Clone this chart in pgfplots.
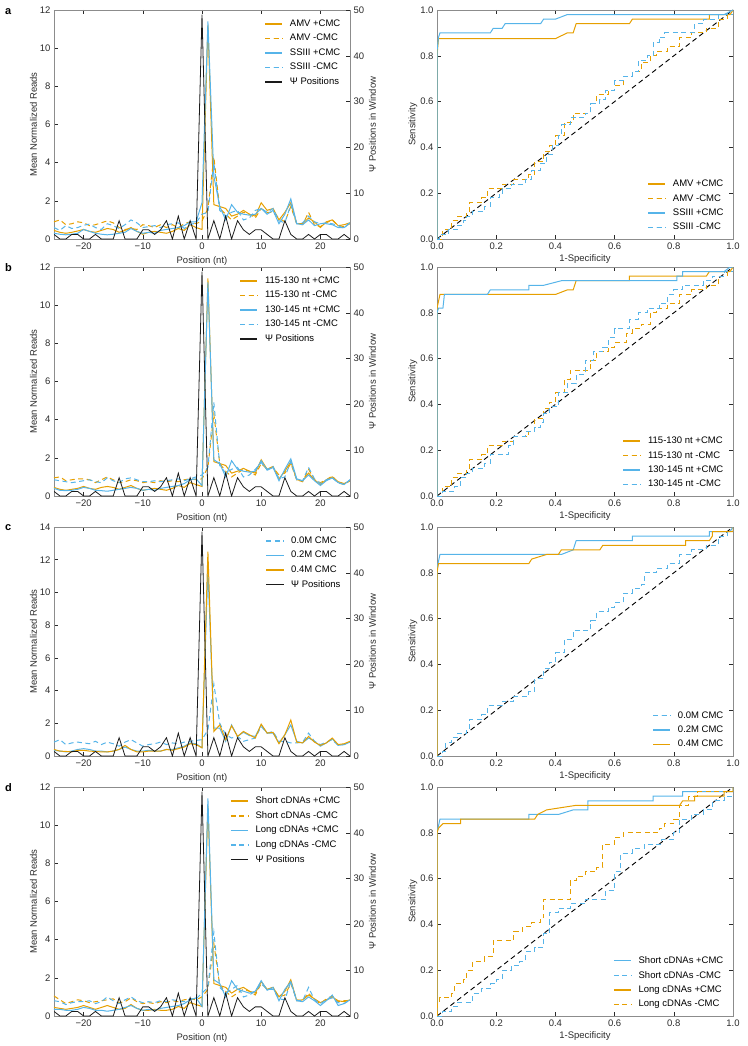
\documentclass[border=0pt]{standalone}
\usepackage{fontspec}
\setmainfont{Liberation Sans}
\usepackage{pgfplots}
\pgfplotsset{compat=1.18}
\usepackage{pgfplotstable}
\definecolor{cor}{HTML}{E69F00}
\definecolor{cbl}{HTML}{56B4E9}
\definecolor{axgray}{HTML}{8C8C8C}
\definecolor{txt}{HTML}{2B2B2B}
\definecolor{psic}{HTML}{1A1A1A}

\pgfplotstableread{
x a1 a2 a3 a4 psi
-25 0.45 0.90 0.30 0.60 1
-24 0.35 1.00 0.25 0.45 0
-23 0.30 0.75 0.22 0.70 0
-22 0.35 0.80 0.25 0.55 1
-21 0.42 0.90 0.30 0.60 1
-20 0.50 0.85 0.50 0.72 0
-19 0.40 0.70 0.40 0.78 0
-18 0.35 0.75 0.30 0.60 1
-17 0.45 0.85 0.25 0.50 0
-16 0.55 0.95 0.22 0.80 0
-15 0.50 0.85 0.25 0.70 0
-14 0.35 0.60 0.30 0.55 4
-13 0.45 0.50 0.35 0.75 0
-12 0.60 0.55 0.55 1.00 0
-11 0.40 0.50 0.40 0.85 0
-10 0.25 0.75 0.30 0.60 2
-9 0.35 0.70 0.35 0.65 2
-8 0.40 0.60 0.30 0.70 1
-7 0.35 0.75 0.45 0.60 2
-6 0.30 0.60 0.50 0.75 4
-5 0.40 0.75 0.55 0.80 0
-4 0.55 0.60 0.60 0.85 5
-3 0.45 0.80 0.70 0.55 0
-2 0.75 0.90 0.90 0.75 4
-1 0.60 0.80 0.90 0.85 0
0 0.50 0.95 1.90 1.30 49
1 11.20 1.60 11.40 1.40 0
2 1.80 4.30 3.30 4.00 4
3 1.70 1.60 1.70 1.50 0
4 1.60 1.30 1.00 1.20 5
5 1.20 1.00 1.80 1.40 0
6 1.30 1.20 1.40 1.50 4
7 1.50 1.40 1.30 1.00 2
8 1.30 1.30 1.25 1.10 1
9 1.20 1.10 1.30 1.50 2
10 1.90 1.60 1.60 1.60 2
11 1.50 1.40 1.30 1.40 1
12 1.60 1.40 1.50 1.60 0
13 1.00 1.10 0.80 0.95 0
14 1.40 0.90 1.30 0.85 4
15 1.90 1.70 2.10 1.80 1
16 0.80 0.80 0.80 0.80 0
17 0.80 0.75 0.75 0.85 0
18 1.10 1.40 1.00 1.20 1
19 0.90 0.75 0.70 0.90 0
20 0.60 0.65 0.80 0.80 1
21 0.90 0.85 0.80 0.85 1
22 1.00 1.00 0.75 0.80 0
23 0.70 0.70 0.60 0.70 0
24 0.75 0.65 0.60 0.55 1
25 0.85 0.80 0.85 0.90 0
}\tabA

\pgfplotstableread{
x b1 b2 b3 b4 psi
-25 0.45 0.95 0.40 0.85 1
-24 0.35 1.00 0.30 0.80 0
-23 0.30 0.80 0.28 0.75 0
-22 0.35 0.85 0.30 0.70 1
-21 0.40 0.90 0.35 0.75 1
-20 0.50 0.90 0.45 0.80 0
-19 0.40 0.85 0.40 0.85 0
-18 0.35 0.70 0.30 0.75 1
-17 0.45 0.85 0.28 0.70 0
-16 0.50 1.00 0.25 0.95 0
-15 0.45 0.85 0.30 0.80 0
-14 0.35 0.70 0.35 0.70 4
-13 0.45 0.75 0.40 0.90 0
-12 0.55 0.85 0.45 0.95 0
-11 0.40 0.80 0.40 0.85 0
-10 0.30 0.70 0.30 0.75 2
-9 0.35 0.75 0.35 0.75 2
-8 0.40 0.70 0.30 0.80 1
-7 0.35 0.80 0.40 0.75 2
-6 0.30 0.75 0.45 0.80 4
-5 0.40 0.80 0.50 0.85 0
-4 0.55 0.75 0.55 0.90 5
-3 0.45 0.85 0.65 0.80 0
-2 0.70 0.90 0.85 0.90 4
-1 0.60 0.85 0.90 1.00 0
0 0.50 0.90 0.55 1.10 49
1 11.40 1.50 11.20 1.50 0
2 1.80 4.30 1.90 4.90 4
3 1.70 1.70 1.70 1.60 0
4 1.60 1.30 1.00 1.20 5
5 1.20 1.00 1.85 1.40 0
6 1.30 1.20 1.40 1.50 4
7 1.45 1.40 1.30 1.00 2
8 1.30 1.30 1.25 1.10 1
9 1.20 1.10 1.30 1.40 2
10 1.90 1.70 1.85 1.75 2
11 1.40 1.40 1.35 1.40 1
12 1.55 1.50 1.50 1.55 0
13 0.90 1.10 0.80 0.90 0
14 1.30 1.20 1.40 1.00 4
15 1.80 1.70 1.95 1.80 1
16 0.85 0.85 0.90 0.85 0
17 0.80 0.75 0.80 0.80 0
18 1.20 1.40 1.10 1.50 1
19 0.85 0.85 0.80 0.90 0
20 0.60 0.70 0.55 0.65 1
21 0.85 0.85 0.80 0.85 1
22 1.00 1.05 0.95 0.95 0
23 0.75 0.70 0.70 0.70 0
24 0.65 0.60 0.60 0.60 1
25 0.80 0.80 0.85 0.85 0
}\tabB

\pgfplotstableread{
x c1 c2 c3 psi
-25 0.85 0.35 0.40 1
-24 1.00 0.30 0.30 0
-23 0.70 0.25 0.28 0
-22 0.80 0.30 0.25 1
-21 0.85 0.40 0.35 1
-20 0.80 0.45 0.35 0
-19 0.75 0.40 0.30 0
-18 0.90 0.30 0.28 1
-17 0.70 0.30 0.25 0
-16 0.85 0.25 0.25 0
-15 0.75 0.30 0.30 0
-14 0.60 0.40 0.40 4
-13 0.85 0.55 0.65 0
-12 1.00 0.40 0.40 0
-11 0.80 0.30 0.25 0
-10 0.60 0.30 0.25 2
-9 0.70 0.35 0.30 2
-8 0.75 0.30 0.30 1
-7 0.85 0.30 0.30 2
-6 0.70 0.40 0.40 4
-5 0.80 0.40 0.35 0
-4 0.75 0.50 0.45 5
-3 0.85 0.60 0.55 0
-2 0.90 0.80 0.75 4
-1 0.95 0.75 0.70 0
0 1.00 0.50 0.50 49
1 1.60 11.40 12.50 0
2 4.40 1.70 1.50 4
3 2.00 1.70 1.90 0
4 1.30 0.90 1.00 5
5 1.10 1.90 1.85 0
6 1.20 1.20 1.20 4
7 0.90 1.45 1.50 2
8 1.00 1.25 1.30 1
9 1.10 1.20 1.10 2
10 1.80 1.90 1.95 2
11 1.40 1.40 1.40 1
12 1.50 1.40 1.45 0
13 0.90 0.80 0.75 0
14 0.90 1.30 1.30 4
15 0.80 1.90 2.20 1
16 0.80 0.90 0.85 0
17 0.85 0.80 0.80 0
18 1.40 1.10 1.20 1
19 0.90 0.90 0.85 0
20 0.70 0.60 0.65 1
21 0.85 0.80 0.80 1
22 1.00 1.05 1.10 0
23 0.65 0.65 0.70 0
24 0.70 0.70 0.75 1
25 0.85 0.85 0.90 0
}\tabC

\pgfplotstableread{
x d1 d2 d3 d4 psi
-25 0.45 1.05 0.35 0.80 1
-24 0.40 0.85 0.35 0.75 0
-23 0.35 0.65 0.30 0.60 0
-22 0.40 0.75 0.30 0.70 1
-21 0.45 0.85 0.35 0.75 1
-20 0.55 0.80 0.45 0.75 0
-19 0.45 0.70 0.40 0.80 0
-18 0.35 0.75 0.30 0.65 1
-17 0.45 0.80 0.30 0.75 0
-16 0.55 0.85 0.25 1.00 0
-15 0.45 0.90 0.30 0.80 0
-14 0.35 0.70 0.35 0.65 4
-13 0.40 0.75 0.45 0.85 0
-12 0.60 0.95 0.55 1.00 0
-11 0.40 0.75 0.40 0.80 0
-10 0.30 0.65 0.30 0.70 2
-9 0.30 0.70 0.35 0.75 2
-8 0.35 0.65 0.30 0.70 1
-7 0.30 0.75 0.40 0.80 2
-6 0.30 0.70 0.45 0.75 4
-5 0.35 0.80 0.50 0.85 0
-4 0.50 0.75 0.55 0.80 5
-3 0.40 0.85 0.65 0.75 0
-2 0.70 0.90 0.85 0.90 4
-1 0.60 0.85 0.95 0.90 0
0 0.50 1.00 0.50 1.20 49
1 11.00 1.40 11.40 1.50 0
2 1.70 3.80 1.90 4.40 4
3 1.60 1.60 1.70 1.50 0
4 1.50 1.30 1.00 1.20 5
5 1.20 1.00 1.85 1.40 0
6 1.40 1.20 1.40 1.60 4
7 1.50 1.40 1.30 1.00 2
8 1.30 1.30 1.20 1.10 1
9 1.20 1.10 1.30 1.30 2
10 1.80 1.70 1.85 1.70 2
11 1.40 1.40 1.35 1.40 1
12 1.50 1.50 1.50 1.40 0
13 1.00 1.00 0.80 0.90 0
14 1.30 1.10 1.40 0.85 4
15 1.90 1.70 1.80 1.80 1
16 0.80 0.85 0.80 0.80 0
17 0.85 0.80 0.75 0.80 0
18 1.10 1.20 1.00 1.50 1
19 0.90 0.85 0.80 0.85 0
20 0.70 0.65 0.55 0.65 1
21 0.85 0.90 0.80 0.85 1
22 1.00 1.05 1.10 0.95 0
23 0.80 0.75 0.55 0.70 0
24 0.75 0.80 0.65 0.65 1
25 0.85 0.80 0.85 0.85 0
}\tabD

\newcommand{\fs}{\fontsize{9.5}{11}\selectfont}
\pgfplotsset{
  base/.style={
    scale only axis, width=296pt, height=229pt,
    axis line style={axgray, line width=0.8pt},
    tick style={txt, line width=0.6pt},
    major tick length=4pt,
    tick align=inside,
    ticklabel style={font=\fs, text=txt},
    label style={font=\fs, text=txt},
    /pgf/number format/assume math mode=true,
    legend style={draw=none, fill=none, font=\fs, row sep=2.3pt,
      /tikz/every odd column/.append style={column sep=5pt}},
    legend image post style={line width=1.4pt},
    legend cell align=left,
    anchor=south west,
  },
  leftmain/.style={base, xmin=-25, xmax=25, ymin=0,
    xtick={-20,-10,0,10,20}, xticklabels={−20,−10,0,10,20},
    xlabel={Position (nt)}, ylabel={Mean Normalized Reads},
    ylabel style={yshift=-4pt},
    ytick pos=left, xtick pos=both,
    legend style={at={(0.985,0.975)}, anchor=north east}},
  leftpsi/.style={base, xmin=-25, xmax=25, ymin=0, ymax=50,
    ytick={0,10,20,30,40,50}, axis x line=none, axis y line*=right,
    ylabel={Ψ Positions in Window}, ylabel style={yshift=2pt}},
  roc/.style={base, xmin=0, xmax=1, ymin=0, ymax=1,
    xtick={0,0.2,0.4,0.6,0.8,1}, ytick={0,0.2,0.4,0.6,0.8,1},
    xticklabel style={/pgf/number format/.cd, fixed, fixed zerofill, precision=1},
    yticklabel style={/pgf/number format/.cd, fixed, fixed zerofill, precision=1},
    xtick pos=both, ytick pos=both,
    xlabel={1-Specificity}, ylabel={Sensitivity},
    ylabel style={yshift=-4pt}, xlabel style={yshift=2pt},
    legend style={at={(0.985,0.015)}, anchor=south east}},
  sor/.style={draw=cor, line width=1pt},
  dor/.style={draw=cor, line width=1pt, dash pattern=on 5pt off 3.5pt},
  sbl/.style={draw=cbl, line width=1pt},
  dbl/.style={draw=cbl, line width=1pt, dash pattern=on 5pt off 3.5pt},
  psl/.style={draw=psic, line width=0.8pt},
  diag/.style={draw=black, line width=0.9pt, dash pattern=on 5pt off 3.5pt, forget plot},
}

\begin{document}
\begin{tikzpicture}
\useasboundingbox (0,0) rectangle (747pt,-1046pt);
\tikzset{lett/.style={font=\bfseries\fontsize{11}{13}\selectfont, anchor=north west, inner sep=0pt}}
\node[lett] at (5pt,-8pt) {a};
\node[lett] at (5pt,-263pt) {b};
\node[lett] at (5pt,-524pt) {c};
\node[lett] at (5pt,-783pt) {d};

% ===== row a =====
\begin{axis}[leftmain, at={(54pt,-239pt)}, ymax=12, ytick={0,2,4,6,8,10,12}]
\addplot[sor] table[x=x,y=a1]{\tabA}; \addlegendentry{AMV +CMC}
\addplot[dor] table[x=x,y=a2]{\tabA}; \addlegendentry{AMV -CMC}
\addplot[sbl] table[x=x,y=a3]{\tabA}; \addlegendentry{SSIII +CMC}
\addplot[dbl] table[x=x,y=a4]{\tabA}; \addlegendentry{SSIII -CMC}
\addlegendimage{psl} \addlegendentry{Ψ Positions}
\end{axis}
\begin{axis}[leftpsi, at={(54pt,-239pt)}]
\addplot[psl] table[x=x,y=psi]{\tabA};
\end{axis}
\begin{axis}[roc, at={(437pt,-239pt)}]
\addplot[diag] coordinates {(0,0)(1,1)};
\addplot[sor] coordinates {(0,0)(0,0.80)(0.005,0.875)(0.40,0.875)(0.44,0.90)(0.46,0.90)(0.47,0.94)(0.65,0.94)(0.66,0.96)(0.92,0.96)(0.92,0.98)(0.99,0.98)(1,1)};
\addlegendentry{AMV +CMC}
\addplot[dor, const plot] coordinates {(0,0)(0.02,0.04)(0.05,0.08)(0.07,0.10)(0.10,0.12)(0.11,0.16)(0.15,0.18)(0.17,0.22)(0.22,0.24)(0.26,0.26)(0.31,0.28)(0.33,0.34)(0.36,0.38)(0.38,0.41)(0.40,0.45)(0.43,0.51)(0.46,0.55)(0.50,0.55)(0.52,0.59)(0.54,0.63)(0.58,0.65)(0.60,0.67)(0.63,0.71)(0.66,0.73)(0.69,0.77)(0.72,0.80)(0.74,0.82)(0.78,0.84)(0.82,0.88)(0.86,0.90)(0.91,0.92)(0.95,0.96)(0.98,0.98)(1,1)};
\addlegendentry{AMV -CMC}
\addplot[sbl] coordinates {(0,0)(0,0.82)(0.005,0.88)(0.01,0.90)(0.18,0.90)(0.19,0.92)(0.22,0.92)(0.23,0.94)(0.35,0.94)(0.36,0.96)(0.40,0.96)(0.44,0.98)(0.97,0.98)(1,1)};
\addlegendentry{SSIII +CMC}
\addplot[dbl, const plot] coordinates {(0,0)(0.01,0.02)(0.04,0.04)(0.07,0.06)(0.09,0.08)(0.10,0.10)(0.12,0.12)(0.16,0.14)(0.18,0.18)(0.21,0.20)(0.22,0.22)(0.25,0.24)(0.30,0.26)(0.32,0.30)(0.35,0.33)(0.37,0.37)(0.39,0.41)(0.41,0.45)(0.42,0.50)(0.45,0.53)(0.50,0.55)(0.52,0.59)(0.55,0.61)(0.57,0.65)(0.60,0.69)(0.63,0.71)(0.66,0.73)(0.68,0.78)(0.71,0.80)(0.73,0.86)(0.75,0.88)(0.77,0.90)(0.83,0.90)(0.87,0.94)(0.90,0.96)(0.95,0.98)(1,1)};
\addlegendentry{SSIII -CMC}
\end{axis}

% ===== row b =====
\begin{axis}[leftmain, at={(54pt,-496pt)}, ymax=12, ytick={0,2,4,6,8,10,12}]
\addplot[sor] table[x=x,y=b1]{\tabB}; \addlegendentry{115-130 nt +CMC}
\addplot[dor] table[x=x,y=b2]{\tabB}; \addlegendentry{115-130 nt -CMC}
\addplot[sbl] table[x=x,y=b3]{\tabB}; \addlegendentry{130-145 nt +CMC}
\addplot[dbl] table[x=x,y=b4]{\tabB}; \addlegendentry{130-145 nt -CMC}
\addlegendimage{psl} \addlegendentry{Ψ Positions}
\end{axis}
\begin{axis}[leftpsi, at={(54pt,-496pt)}]
\addplot[psl] table[x=x,y=psi]{\tabB};
\end{axis}
\begin{axis}[roc, at={(437pt,-496pt)}]
\addplot[diag] coordinates {(0,0)(1,1)};
\addplot[sor] coordinates {(0,0)(0,0.82)(0.01,0.88)(0.40,0.88)(0.44,0.90)(0.46,0.90)(0.47,0.94)(0.65,0.94)(0.65,0.96)(0.91,0.96)(0.92,0.98)(0.99,0.98)(1,1)};
\addlegendentry{115-130 nt +CMC}
\addplot[dor, const plot] coordinates {(0,0)(0.02,0.04)(0.05,0.08)(0.07,0.10)(0.10,0.12)(0.11,0.16)(0.15,0.18)(0.17,0.22)(0.22,0.24)(0.26,0.26)(0.31,0.28)(0.33,0.34)(0.36,0.38)(0.38,0.41)(0.40,0.45)(0.43,0.51)(0.45,0.55)(0.50,0.55)(0.52,0.59)(0.54,0.63)(0.58,0.65)(0.60,0.67)(0.64,0.71)(0.66,0.73)(0.69,0.75)(0.72,0.80)(0.74,0.82)(0.78,0.84)(0.82,0.88)(0.86,0.90)(0.91,0.92)(0.95,0.96)(0.98,0.98)(1,1)};
\addlegendentry{115-130 nt -CMC}
\addplot[sbl] coordinates {(0,0)(0,0.80)(0.005,0.82)(0.02,0.82)(0.025,0.88)(0.17,0.88)(0.18,0.90)(0.31,0.90)(0.31,0.92)(0.36,0.92)(0.42,0.94)(0.81,0.94)(0.81,0.96)(0.83,0.96)(0.83,0.98)(0.97,0.98)(0.99,1)(1,1)};
\addlegendentry{130-145 nt +CMC}
\addplot[dbl, const plot] coordinates {(0,0)(0.02,0.02)(0.06,0.04)(0.08,0.08)(0.10,0.10)(0.12,0.12)(0.16,0.14)(0.18,0.18)(0.21,0.18)(0.24,0.22)(0.26,0.26)(0.30,0.28)(0.33,0.30)(0.35,0.32)(0.36,0.36)(0.38,0.39)(0.41,0.45)(0.44,0.49)(0.47,0.53)(0.50,0.59)(0.53,0.63)(0.56,0.65)(0.58,0.69)(0.60,0.73)(0.65,0.77)(0.68,0.80)(0.71,0.82)(0.75,0.84)(0.78,0.88)(0.80,0.90)(0.83,0.92)(0.90,0.94)(0.93,0.96)(0.97,0.98)(1,1)};
\addlegendentry{130-145 nt -CMC}
\end{axis}

% ===== row c =====
\begin{axis}[leftmain, at={(54pt,-756pt)}, ymax=14, ytick={0,2,4,6,8,10,12,14}]
\addplot[dbl] table[x=x,y=c1]{\tabC}; \addlegendentry{0.0M CMC}
\addplot[sbl] table[x=x,y=c2]{\tabC}; \addlegendentry{0.2M CMC}
\addplot[sor] table[x=x,y=c3]{\tabC}; \addlegendentry{0.4M CMC}
\addlegendimage{psl} \addlegendentry{Ψ Positions}
\end{axis}
\begin{axis}[leftpsi, at={(54pt,-756pt)}]
\addplot[psl] table[x=x,y=psi]{\tabC};
\end{axis}
\begin{axis}[roc, at={(437pt,-756pt)}]
\addplot[diag] coordinates {(0,0)(1,1)};
\addplot[dbl, const plot] coordinates {(0,0)(0.02,0.02)(0.03,0.06)(0.05,0.08)(0.07,0.10)(0.10,0.12)(0.11,0.16)(0.15,0.18)(0.17,0.22)(0.22,0.24)(0.26,0.26)(0.31,0.28)(0.33,0.34)(0.36,0.38)(0.38,0.41)(0.40,0.45)(0.43,0.51)(0.46,0.55)(0.50,0.55)(0.52,0.59)(0.54,0.63)(0.58,0.65)(0.60,0.67)(0.63,0.71)(0.66,0.73)(0.69,0.75)(0.70,0.80)(0.74,0.82)(0.78,0.84)(0.82,0.88)(0.86,0.90)(0.91,0.92)(0.95,0.96)(0.98,0.98)(1,1)};
\addlegendentry{0.0M CMC}
\addplot[sbl] coordinates {(0,0)(0,0.82)(0.01,0.88)(0.42,0.88)(0.46,0.90)(0.47,0.94)(0.66,0.94)(0.66,0.96)(0.92,0.96)(0.92,0.98)(0.99,0.98)(1,1)};
\addlegendentry{0.2M CMC}
\addplot[sor] coordinates {(0,0)(0,0.80)(0.005,0.84)(0.31,0.84)(0.32,0.86)(0.37,0.88)(0.41,0.88)(0.42,0.90)(0.55,0.90)(0.56,0.92)(0.84,0.92)(0.84,0.94)(0.92,0.94)(0.93,0.96)(0.93,0.98)(1,0.98)(1,1)};
\addlegendentry{0.4M CMC}
\end{axis}

% ===== row d =====
\begin{axis}[leftmain, at={(54pt,-1016pt)}, ymax=12, ytick={0,2,4,6,8,10,12}]
\addplot[sor] table[x=x,y=d1]{\tabD}; \addlegendentry{Short cDNAs +CMC}
\addplot[dor] table[x=x,y=d2]{\tabD}; \addlegendentry{Short cDNAs -CMC}
\addplot[sbl] table[x=x,y=d3]{\tabD}; \addlegendentry{Long cDNAs +CMC}
\addplot[dbl] table[x=x,y=d4]{\tabD}; \addlegendentry{Long cDNAs -CMC}
\addlegendimage{psl} \addlegendentry{Ψ Positions}
\end{axis}
\begin{axis}[leftpsi, at={(54pt,-1016pt)}]
\addplot[psl] table[x=x,y=psi]{\tabD};
\end{axis}
\begin{axis}[roc, at={(437pt,-1016pt)}]
\addplot[diag] coordinates {(0,0)(1,1)};
\addplot[sbl] coordinates {(0,0)(0,0.80)(0.01,0.86)(0.31,0.86)(0.31,0.88)(0.41,0.88)(0.46,0.90)(0.51,0.90)(0.51,0.94)(0.73,0.94)(0.73,0.96)(0.83,0.96)(0.83,0.98)(1,0.98)(1,1)};
\addlegendentry{Short cDNAs +CMC}
\addplot[dbl, const plot] coordinates {(0,0)(0.02,0.02)(0.05,0.04)(0.07,0.06)(0.11,0.06)(0.12,0.10)(0.15,0.12)(0.18,0.14)(0.20,0.16)(0.22,0.20)(0.25,0.22)(0.28,0.24)(0.30,0.28)(0.33,0.30)(0.36,0.36)(0.38,0.40)(0.38,0.45)(0.41,0.47)(0.45,0.49)(0.50,0.51)(0.55,0.51)(0.57,0.55)(0.60,0.63)(0.62,0.71)(0.66,0.73)(0.70,0.75)(0.76,0.77)(0.80,0.80)(0.82,0.86)(0.86,0.88)(0.90,0.90)(0.93,0.94)(0.97,0.96)(1,1)};
\addlegendentry{Short cDNAs -CMC}
\addplot[sor] coordinates {(0,0)(0,0.80)(0.005,0.82)(0.02,0.84)(0.08,0.84)(0.08,0.86)(0.33,0.86)(0.34,0.88)(0.37,0.90)(0.47,0.92)(0.82,0.92)(0.83,0.94)(0.87,0.94)(0.87,0.96)(0.97,0.96)(0.97,0.98)(1,0.98)(1,1)};
\addlegendentry{Long cDNAs +CMC}
\addplot[dor, const plot] coordinates {(0,0)(0,0.06)(0.01,0.08)(0.05,0.10)(0.06,0.14)(0.09,0.16)(0.10,0.20)(0.12,0.24)(0.16,0.26)(0.19,0.33)(0.25,0.33)(0.26,0.37)(0.29,0.39)(0.32,0.41)(0.35,0.43)(0.36,0.47)(0.36,0.51)(0.42,0.51)(0.45,0.59)(0.47,0.61)(0.50,0.63)(0.54,0.65)(0.56,0.75)(0.60,0.78)(0.63,0.80)(0.72,0.80)(0.75,0.82)(0.77,0.84)(0.80,0.86)(0.82,0.92)(0.85,0.96)(0.88,0.98)(0.95,0.98)(1,1)};
\addlegendentry{Long cDNAs -CMC}
\end{axis}
\end{tikzpicture}
\end{document}
